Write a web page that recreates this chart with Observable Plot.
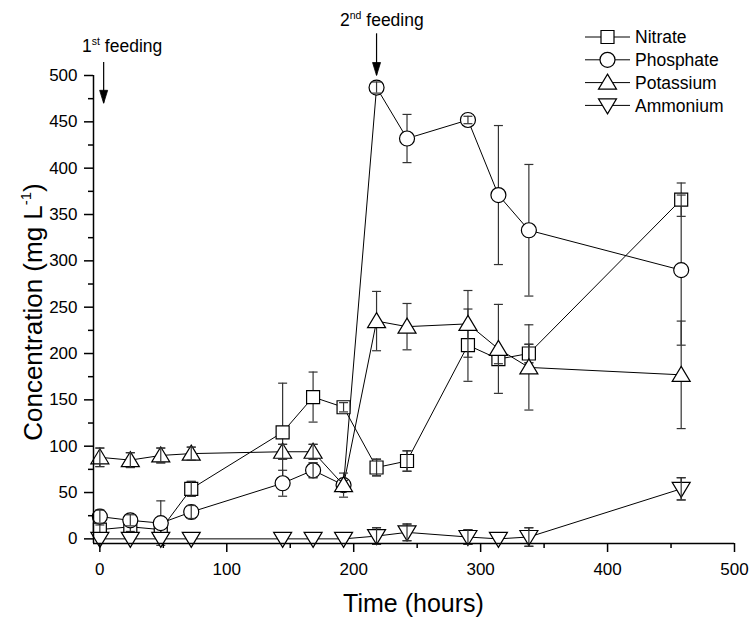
<!DOCTYPE html>
<html><head><meta charset="utf-8">
<script src="https://cdn.jsdelivr.net/npm/d3@7"></script>
<script src="https://cdn.jsdelivr.net/npm/@observablehq/plot@0.6"></script>
<style>body{margin:0;background:#fff} #chart svg{font-family:"Liberation Sans",Arial,sans-serif}</style>
</head><body><div id="chart"></div>
<script>
// ---- data ----
const times = [0, 24, 48, 72, 144, 168, 192, 218, 242, 290, 314, 338, 458];
const seriesNames = ["Nitrate", "Phosphate", "Potassium", "Ammonium"];
const nitrate      = [10, 13, 10, 54, 115, 153, 142, 77, 84, 209, 194, 200, 366];
const nitrateErr   = [5, 5, 4, 8, 53, 27, 5, 9, 11, 39, 5, 10, 18];
const phosphate    = [24, 20, 17, 29, 60, 74, 58, 487, 432, 452, 371, 333, 290];
const phosphateErr = [7, 6, 24, 7, 14, 8, 5, 6, 26, 4, 75, 71, 81];
const potassium    = [88, 85, 90, 92, 94, 94, 58, 235, 229, 232, 205, 185, 177];
const potassiumErr = [10, 8, 8, 7, 8, 8, 13, 32, 25, 36, 48, 46, 58];
const ammonium     = [0, 0, 0, 0, 0, 0, 0, 3, 7, 2, 0, 2, 54];
const ammoniumErr  = [0, 0, 0, 0, 0, 0, 0, 9, 9, 8, 0, 10, 12];
const xTicks = [0, 100, 200, 300, 400, 500];
const xMinor = [50, 150, 250, 350, 450];
const yTicks = [0, 50, 100, 150, 200, 250, 300, 350, 400, 450, 500];
const yMinor = [25, 75, 125, 175, 225, 275, 325, 375, 425, 475];
const feedings = [
  {t: 3, top: 514, tip: 470, label: "1", sup: "st", tx: -13.6, ty: 524.8},
  {t: 218, top: 545, tip: 500, label: "2", sup: "nd", tx: 189.6, ty: 552.5}
];

// ---- symbols ----
const sq = {draw(c){c.moveTo(-6.5,-6.5);c.lineTo(6.5,-6.5);c.lineTo(6.5,6.5);c.lineTo(-6.5,6.5);c.closePath();}};
const circ = {draw(c){c.moveTo(7.5,0);c.arc(0,0,7.5,0,2*Math.PI);c.closePath();}};
const triUp = {draw(c){c.moveTo(0,-8.5);c.lineTo(9,6.5);c.lineTo(-9,6.5);c.closePath();}};
const triDown = {draw(c){c.moveTo(0,8.5);c.lineTo(9,-6.5);c.lineTo(-9,-6.5);c.closePath();}};
const cap = {draw(c){c.moveTo(-4.5,0);c.lineTo(4.5,0);}};
const head = {draw(c){c.moveTo(-4,-13);c.lineTo(4,-13);c.lineTo(0,0);c.closePath();}};
const symbols = [sq, circ, triUp, triDown];

const vals = [nitrate, phosphate, potassium, ammonium];
const errs = [nitrateErr, phosphateErr, potassiumErr, ammoniumErr];
const data = [];
seriesNames.forEach((s, i) => times.forEach((t, j) => data.push({s, t, v: vals[i][j], e: errs[i][j]})));

const marks = [];
marks.push(Plot.line(data, {x: "t", y: "v", z: "s", stroke: "black", strokeWidth: 1}));
seriesNames.forEach((name, i) => {
  const all = data.filter(r => r.s === name);
  const d = all.filter(r => r.e > 0);
  const eb = (rows) => [
    Plot.ruleX(rows, {x: "t", y1: r => r.v - r.e, y2: r => r.v + r.e, stroke: "#333", strokeWidth: 1.2}),
    Plot.dot(rows, {x: "t", y: r => r.v + r.e, symbol: cap, stroke: "#333", strokeWidth: 1.2, fill: "none"}),
    Plot.dot(rows, {x: "t", y: r => r.v - r.e, symbol: cap, stroke: "#333", strokeWidth: 1.2, fill: "none"})
  ];
  marks.push(...eb(d));
  marks.push(Plot.dot(all, {x: "t", y: "v", symbol: symbols[i], fill: "white", stroke: "black", strokeWidth: 1.2}));
  marks.push(...eb(d.filter(r => r.e <= 12)));
});
// feeding arrows
marks.push(Plot.ruleX(feedings, {x: "t", y1: "top", y2: "tip", stroke: "black", strokeWidth: 1.2}));
marks.push(Plot.dot(feedings, {x: "t", y: "tip", symbol: head, fill: "black", stroke: "black", strokeWidth: 0.8}));
// axes
marks.push(Plot.axisX({ticks: xTicks, tickSize: 9, tickPadding: 10, label: null, strokeWidth: 1.5, fontSize: 17}));
marks.push(Plot.axisX({ticks: xMinor, tickSize: 5, tickFormat: () => "", label: null, strokeWidth: 1.5}));
marks.push(Plot.axisY({ticks: yTicks, tickSize: 9, tickPadding: 7, label: null, strokeWidth: 1.5, fontSize: 17}));
marks.push(Plot.axisY({ticks: yMinor, tickSize: 5, tickFormat: () => "", label: null, strokeWidth: 1.5}));
marks.push(Plot.ruleY([-5], {strokeWidth: 1.5}));
marks.push(Plot.ruleX([-5], {strokeWidth: 1.5}));

const plot = Plot.plot({
  width: 752, height: 619,
  marginLeft: 93, marginRight: 18, marginTop: 75, marginBottom: 76,
  style: {fontFamily: "Liberation Sans, Arial, sans-serif", fontSize: "17px", background: "white", color: "black", overflow: "visible"},
  x: {domain: [-5, 500]},
  y: {domain: [-5, 500]},
  marks
});
document.getElementById("chart").appendChild(plot);

const svg = d3.select(plot);
const sx = plot.scale("x"), sy = plot.scale("y");

// axis titles
const xc = (sx.apply(-5) + sx.apply(500)) / 2;
svg.append("text").attr("x", xc).attr("y", 612).attr("text-anchor", "middle")
  .attr("font-size", 25).attr("fill", "black").text("Time (hours)");
const yc = (sy.apply(-5) + sy.apply(500)) / 2;
const yl = svg.append("text").attr("transform", `translate(42,${yc + 3}) rotate(-90)`)
  .attr("text-anchor", "middle").attr("font-size", 26).attr("fill", "black");
yl.append("tspan").text("Concentration (mg L");
yl.append("tspan").attr("font-size", 15).attr("dy", -11).text("-1");
yl.append("tspan").attr("dy", 11).text(")");

// feeding labels
feedings.forEach(f => {
  const t = svg.append("text").attr("x", sx.apply(f.tx)).attr("y", sy.apply(f.ty))
    .attr("text-anchor", "start").attr("font-size", 17.5).attr("fill", "black");
  t.append("tspan").text(f.label);
  t.append("tspan").attr("font-size", 10.5).attr("dy", -7).text(f.sup);
  t.append("tspan").attr("dy", 7).text(" feeding");
});

// legend
const lg = svg.append("g");
seriesNames.forEach((name, i) => {
  const y = 37 + i * 22.8;
  lg.append("line").attr("x1", 585).attr("x2", 630).attr("y1", y).attr("y2", y).attr("stroke", "black").attr("stroke-width", 1);
  lg.append("path").attr("transform", `translate(607.5,${y})`).attr("d", d3.symbol(symbols[i])())
    .attr("fill", "white").attr("stroke", "black").attr("stroke-width", 1.2);
  lg.append("text").attr("x", 635).attr("y", y).attr("dy", "0.35em").attr("text-anchor", "start")
    .attr("font-size", 17.5).attr("fill", "black").text(name);
});
</script></body></html>
